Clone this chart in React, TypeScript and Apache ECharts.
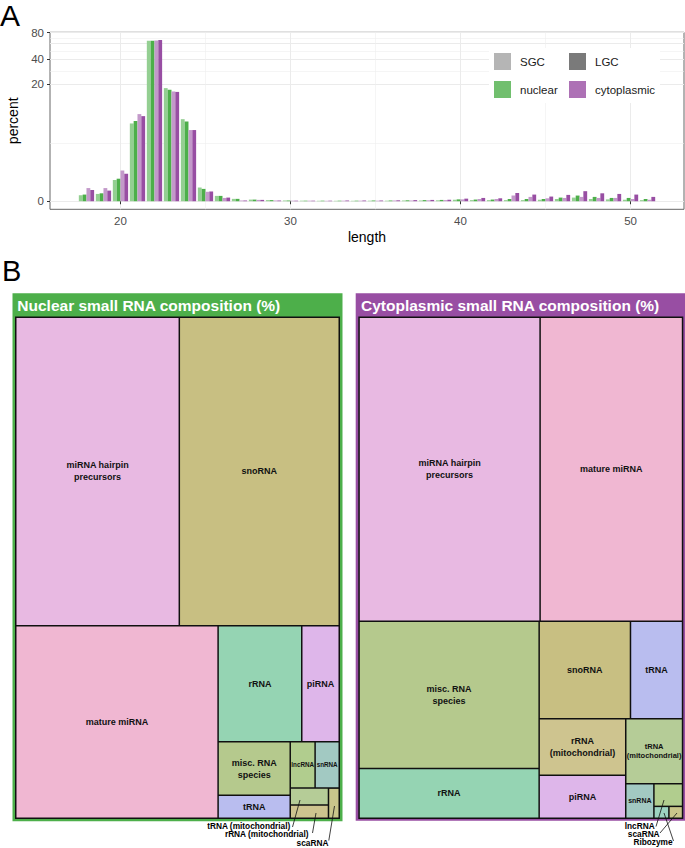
import React, { useEffect, useRef } from "react";
import * as echarts from "echarts";

// ---------- Panel A data ----------
const lengths = [18, 19, 20, 21, 22, 23, 24, 25, 26, 27, 28, 29, 30, 31, 32, 33, 34, 35, 36, 37, 38, 39, 40, 41, 42, 43, 44, 45, 46, 47, 48, 49, 50, 51];
const nuclearSGC = [0.17, 0.21, 0.74, 6.6, 64.6, 18.1, 7.5, 0.43, 0.15, 0.064, 0.044, 0.03, 0.02, 0.015, 0.012, 0.012, 0.012, 0.015, 0.015, 0.02, 0.02, 0.025, 0.04, 0.03, 0.03, 0.03, 0.03, 0.04, 0.06, 0.1, 0.06, 0.05, 0.04, 0.03];
const nuclearLGC = [0.19, 0.23, 0.8, 7.1, 64.6, 17.3, 7.0, 0.38, 0.15, 0.064, 0.044, 0.03, 0.02, 0.015, 0.015, 0.015, 0.015, 0.02, 0.02, 0.025, 0.03, 0.035, 0.05, 0.045, 0.045, 0.06, 0.06, 0.06, 0.1, 0.16, 0.12, 0.09, 0.09, 0.06];
const cytoplasmicSGC = [0.41, 0.41, 1.23, 8.7, 65.0, 16.5, 5.4, 0.28, 0.09, 0.02, 0.036, 0.02, 0.015, 0.015, 0.012, 0.015, 0.015, 0.015, 0.02, 0.02, 0.025, 0.03, 0.05, 0.06, 0.06, 0.16, 0.12, 0.08, 0.09, 0.12, 0.09, 0.09, 0.06, 0.04];
const cytoplasmicLGC = [0.34, 0.32, 1.05, 8.2, 65.8, 16.3, 5.4, 0.29, 0.1, 0.02, 0.036, 0.02, 0.015, 0.015, 0.015, 0.02, 0.02, 0.02, 0.025, 0.03, 0.035, 0.04, 0.07, 0.09, 0.08, 0.24, 0.19, 0.13, 0.18, 0.3, 0.23, 0.21, 0.19, 0.12];
const yTickValues = [0, 20, 40, 60, 80];
const xTickValues = [20, 30, 40, 50];
const xMinorValues = [25, 35, 45];

// ---------- Panel B data ----------
const nuclearNames = ["miRNA hairpin precursors", "snoRNA", "mature miRNA", "rRNA", "piRNA", "misc. RNA species", "tRNA", "lncRNA", "snRNA", "tRNA (mitochondrial)", "rRNA (mitochondrial)", "scaRNA"];
const nuclearValues = [31.09, 30.4, 24.0, 5.98, 2.68, 2.38, 1.02, 0.71, 0.69, 0.4, 0.31, 0.2];
const nuclearOutside = ["tRNA (mitochondrial)", "rRNA (mitochondrial)", "scaRNA"];

const cytoplasmicNames = ["miRNA hairpin precursors", "mature miRNA", "misc. RNA species", "rRNA", "snoRNA", "tRNA", "rRNA (mitochondrial)", "piRNA", "tRNA (mitochondrial)", "snRNA", "lncRNA", "Ribozyme", "scaRNA"];
const cytoplasmicValues = [33.97, 26.73, 16.37, 5.52, 5.49, 3.13, 3.02, 2.3, 2.28, 0.6, 0.4, 0.11, 0.1];
const cytoplasmicOutside = ["lncRNA", "scaRNA", "Ribozyme"];

const rnaColors: Record<string, string> = {
  "miRNA hairpin precursors": "#E8B9E2",
  snoRNA: "#C8BF82",
  "mature miRNA": "#F0B7D2",
  rRNA: "#95D4B3",
  piRNA: "#DEB6EA",
  "misc. RNA species": "#B5C98D",
  tRNA: "#B9BDEF",
  lncRNA: "#B1CD8E",
  snRNA: "#A2C9C2",
  "tRNA (mitochondrial)": "#B5CC97",
  "rRNA (mitochondrial)": "#CEC48F",
  scaRNA: "#C9C68B",
  Ribozyme: "#9DD3C1",
};
const wrapped: Record<string, string> = {
  "miRNA hairpin precursors": "miRNA hairpin\nprecursors",
  "misc. RNA species": "misc. RNA\nspecies",
  "rRNA (mitochondrial)": "rRNA\n(mitochondrial)",
  "tRNA (mitochondrial)": "tRNA\n(mitochondrial)",
};

const FONT = '"Liberation Sans", Arial, Helvetica, sans-serif';

export default function App() {
  const ref = useRef<HTMLDivElement>(null);
  useEffect(() => {
    document.body.style.margin = "0";
    const chart = echarts.init(ref.current as HTMLDivElement, null, { renderer: "svg" });
    const tr = (v: number) => Math.log1p(v);
    const mk = (arr: number[]) => lengths.map((L, i) => [L, tr(arr[i])]);
    const yTicks = yTickValues.map(tr);
    const yMinor = yTicks.slice(1).map((t, i) => (t + yTicks[i]) / 2);
    const yMin = -0.21;
    const yMax = 4.405;
    const xMin = 15.855;
    const xMax = 53.145;

    const barBase = (name: string, color: string, arr: number[]) => ({
      type: "bar",
      name,
      xAxisIndex: 0,
      yAxisIndex: 0,
      data: mk(arr),
      barGap: "0%",
      barCategoryGap: "10%",
      itemStyle: { color },
      silent: true,
    });

    const makeTree = (names: string[], values: number[], outside: string[], small: Record<string, number>) =>
      names.map((n, i) => {
        const item: any = { name: n, value: values[i], itemStyle: { color: rnaColors[n] } };
        if (outside.includes(n)) item.label = { show: false };
        else if (small[n]) item.label = { fontSize: small[n], lineHeight: small[n] + 2 };
        return item;
      });

    const treeBase = (left: number, data: any[]) => ({
      type: "treemap",
      left,
      top: 316.5,
      width: 325,
      height: 502.5,
      roam: false,
      nodeClick: false,
      silent: true,
      breadcrumb: { show: false },
      label: {
        show: true,
        position: "inside",
        align: "center",
        verticalAlign: "middle",
        formatter: (p: any) => wrapped[p.name] || p.name,
        color: "#111",
        fontSize: 9,
        lineHeight: 12,
        fontWeight: "bold",
        fontFamily: FONT,
        padding: 0,
        overflow: "none",
      },
      upperLabel: { show: false },
      itemStyle: { borderColor: "#111", borderWidth: 0.75, gapWidth: 0 },
      levels: [
        { itemStyle: { borderColor: "#111", borderWidth: 0.75, gapWidth: 0 } },
        { itemStyle: { borderColor: "#111", borderWidth: 0.75, gapWidth: 0 } },
      ],
      data,
    });

    const txt = (x: number, y: number, text: string, size: number, opts: any = {}) => ({
      type: "text",
      x,
      y,
      z: 20,
      style: {
        text,
        fontSize: size,
        lineHeight: opts.lineHeight,
        fontFamily: FONT,
        fontWeight: opts.weight || "normal",
        fill: opts.fill || "#000",
        align: opts.align || "left",
        textAlign: opts.align || "left",
        verticalAlign: "middle",
        textVerticalAlign: "middle",
      },
    });
    const ln = (x1: number, y1: number, x2: number, y2: number) => ({
      type: "line",
      z: 20,
      shape: { x1, y1, x2, y2 },
      style: { stroke: "#111", lineWidth: 0.8 },
    });
    const out = { weight: "bold", align: "center", lineHeight: 8 };

    const option: any = {
      animation: false,
      grid: {
        left: 50,
        top: 32.3,
        width: 634,
        height: 177,
        show: true,
        borderColor: "#666",
        borderWidth: 1,
        backgroundColor: "#fff",
        containLabel: false,
        outerBoundsMode: "none",
      },
      xAxis: [
        {
          type: "value",
          gridIndex: 0,
          min: xMin,
          max: xMax,
          name: "length",
          nameLocation: "middle",
          nameGap: 21,
          nameTextStyle: { color: "#000", fontSize: 14, fontFamily: FONT },
          axisLine: { show: false },
          axisTick: { show: true, length: 3, lineStyle: { color: "#333" }, customValues: xTickValues },
          axisLabel: { customValues: xTickValues, color: "#4D4D4D", fontSize: 11.5, margin: 6, fontFamily: FONT },
          splitLine: { show: true, lineStyle: { color: "#EBEBEB", width: 1 } },
        },
        {
          type: "value",
          gridIndex: 0,
          min: xMin,
          max: xMax,
          position: "bottom",
          axisLine: { show: false },
          axisTick: { show: false, customValues: xMinorValues },
          axisLabel: { show: false, customValues: xMinorValues },
          splitLine: { show: true, lineStyle: { color: "#EFEFEF", width: 0.6 } },
        },
      ],
      yAxis: [
        {
          type: "value",
          gridIndex: 0,
          min: yMin,
          max: yMax,
          name: "percent",
          nameLocation: "middle",
          nameGap: 22,
          nameTextStyle: { color: "#000", fontSize: 14, fontFamily: FONT },
          axisLine: { show: false },
          axisTick: { show: true, length: 3, lineStyle: { color: "#333" }, customValues: yTicks },
          axisLabel: {
            customValues: yTicks,
            formatter: (v: number) => String(Math.round(Math.expm1(v))),
            color: "#4D4D4D",
            fontSize: 11.5,
            lineHeight: 11,
            margin: 6,
            fontFamily: FONT,
            showMaxLabel: true,
            showMinLabel: true,
            hideOverlap: false,
          },
          splitLine: { show: true, lineStyle: { color: "#EBEBEB", width: 1 } },
        },
        {
          type: "value",
          gridIndex: 0,
          min: yMin,
          max: yMax,
          axisLine: { show: false },
          axisTick: { show: false, customValues: yMinor },
          axisLabel: { show: false, customValues: yMinor },
          splitLine: { show: true, lineStyle: { color: "#EFEFEF", width: 0.6 } },
        },
      ],
      legend: [
        {
          data: [
            { name: "SGC", icon: "rect" },
            { name: "nuclear", icon: "rect" },
          ],
          orient: "vertical",
          left: 494,
          top: 53,
          itemWidth: 17,
          itemHeight: 17,
          itemGap: 11,
          padding: 0,
          selectedMode: false,
          textStyle: { fontSize: 11.5, color: "#1a1a1a", fontFamily: FONT, padding: [0, 0, 0, 4] },
        },
        {
          data: [
            { name: "LGC", icon: "rect" },
            { name: "cytoplasmic", icon: "rect" },
          ],
          orient: "vertical",
          left: 569,
          top: 53,
          itemWidth: 17,
          itemHeight: 17,
          itemGap: 11,
          padding: 0,
          selectedMode: false,
          textStyle: { fontSize: 11.5, color: "#1a1a1a", fontFamily: FONT, padding: [0, 0, 0, 4] },
        },
      ],
      series: [
        barBase("nuclear SGC", "#94CF92", nuclearSGC),
        barBase("nuclear LGC", "#4DAF4A", nuclearLGC),
        barBase("cytoplasmic SGC", "#C399CA", cytoplasmicSGC),
        barBase("cytoplasmic LGC", "#984EA3", cytoplasmicLGC),
        { type: "scatter", name: "SGC", data: [], itemStyle: { color: "#A3A3A3" } },
        { type: "scatter", name: "LGC", data: [], itemStyle: { color: "#595959" } },
        { type: "scatter", name: "nuclear", data: [], itemStyle: { color: "#4DAF4A" } },
        { type: "scatter", name: "cytoplasmic", data: [], itemStyle: { color: "#984EA3" } },
        treeBase(15, makeTree(nuclearNames, nuclearValues, nuclearOutside, { lncRNA: 6.3, snRNA: 6.3 })),
        treeBase(358.3, makeTree(cytoplasmicNames, cytoplasmicValues, cytoplasmicOutside, { snRNA: 7, "tRNA (mitochondrial)": 7.5 })),
      ],
      graphic: [
        { type: "rect", z: 1, shape: { x: 489, y: 48, width: 171, height: 55 }, style: { fill: "#fff" } },
        txt(0, 15, "A", 30),
        txt(2, 271, "B", 29),
        { type: "rect", z: 0, shape: { x: 12.5, y: 293.3, width: 330, height: 528 }, style: { fill: "#4DAF4A" } },
        txt(17.3, 305, "Nuclear small RNA composition (%)", 15.5, { weight: "bold", fill: "#fff" }),
        { type: "rect", z: 0, shape: { x: 355.7, y: 293.3, width: 331, height: 527.5 }, style: { fill: "#984EA3" } },
        txt(361, 305, "Cytoplasmic small RNA composition (%)", 15.5, { weight: "bold", fill: "#fff" }),
        // nuclear outside labels
        txt(248.7, 825.8, "tRNA (mitochondrial)", 8.3, out),
        txt(266.7, 834.2, "rRNA (mitochondrial)", 8.3, out),
        txt(312.5, 842.6, "scaRNA", 8.3, out),
        ln(292.5, 827, 300, 800),
        ln(312.5, 833, 316, 813),
        ln(328.8, 840.5, 334.5, 806),
        // cytoplasmic outside labels
        txt(639.7, 825.6, "lncRNA", 8.3, out),
        txt(643.7, 834, "scaRNA", 8.3, out),
        txt(653, 842.4, "Ribozyme", 8.3, out),
        ln(656, 826.5, 664, 800),
        ln(660, 833, 677, 813),
        ln(673.5, 841, 664, 813),
      ],
    };
    chart.setOption(option);
    return () => chart.dispose();
  }, []);
  return <div ref={ref} style={{ width: 685, height: 848 }} />;
}
